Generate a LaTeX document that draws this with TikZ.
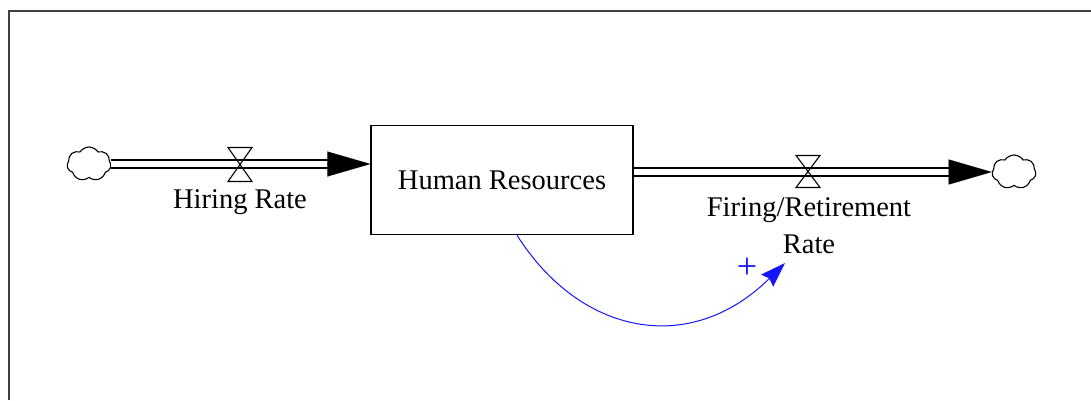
\documentclass[tikz,border=0pt]{standalone}
\usepackage{fontspec}
\setmainfont{Liberation Serif}
\usetikzlibrary{arrows.meta,shapes.symbols,calc}

\definecolor{framegray}{RGB}{64,64,64}
\definecolor{linkblue}{RGB}{20,20,255}

\begin{document}
\begin{tikzpicture}[x=1pt,y=-1pt,
  txt/.style={font=\fontsize{28.5}{37}\selectfont,inner sep=0pt},
  stock/.style={txt,draw,line width=1.3pt,minimum width=262pt,minimum height=109pt},
  source/.style={cloud,cloud puffs=7,cloud puff arc=115,cloud ignores aspect,draw,line width=1.1pt,minimum width=44pt,minimum height=34pt,inner sep=0pt},
  pipe/.style={draw,line width=1.4pt,double=white,double distance=6.6pt},
  pipehead/.style={line width=0.1pt,-{Triangle[length=43pt,width=25pt]}},
  valve/.style={draw,line width=1.1pt,line join=miter},
  influence/.style={draw=linkblue,line width=1pt,-{Stealth[length=25pt,width=17pt,inset=3pt]}},
]
\useasboundingbox (0,0) rectangle (1091,400);

% panel border
\draw[framegray,line width=2pt] (8.5,400) -- (8.5,11) -- (1091,11);

% stock and sources/sinks
\node[stock] (hr) at (502,180) {Human Resources};
\node[source] (cL) at (89,164) {};
\node[source] (cR) at (1014,172) {};

% valve centres
\coordinate (vH) at (240,164.5);
\coordinate (vF) at (808,171.5);

% inflow pipe
\draw[pipe] (cL.east) -- ($(cL.east -| hr.west)+(-40,0)$);
\draw[pipehead] ($(cL.east -| hr.west)+(-43,0)$) -- (cL.east -| hr.west);

% outflow pipe
\draw[pipe] (hr.east |- cR.west) -- ($(cR.west)+(-40,0)$);
\draw[pipehead] ($(cR.west)+(-43,0)$) -- (cR.west);

% valves
\draw[valve] ($(vH)+(-12,-17)$) -- ($(vH)+(12,-17)$) -- ($(vH)+(-12,17)$) -- ($(vH)+(12,17)$) -- cycle;
\draw[valve] ($(vF)+(-12,-16)$) -- ($(vF)+(12,-16)$) -- ($(vF)+(-12,16)$) -- ($(vF)+(12,16)$) -- cycle;

% rate labels
\node[txt,anchor=base] (lH) at (240,208) {Hiring Rate};
\node[txt,anchor=north,align=center] (lF) at (809,197) {Firing/Retirement\\Rate};

% influence link
\coordinate (fin) at (785,263);
\draw[influence] ($(hr.south)+(15,0)$) .. controls (580,335) and (690,357) .. (fin);
\node[font=\fontsize{36}{36}\selectfont,inner sep=0pt,text=linkblue] (pl) at (747,268) {+};
\end{tikzpicture}
\end{document}
